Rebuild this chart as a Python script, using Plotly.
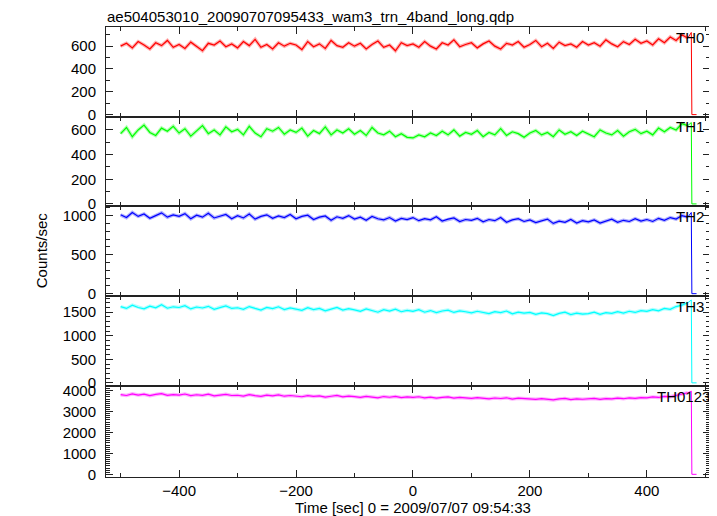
import plotly.graph_objects as go
from plotly.subplots import make_subplots

title_text = "ae504053010_20090707095433_wam3_trn_4band_long.qdp"
x_title = "Time [sec] 0 = 2009/07/07 09:54:33"
y_title = "Counts/sec"
band_names = ["TH0", "TH1", "TH2", "TH3", "TH0123"]
band_colors = ["#ff0000", "#00ff00", "#0000ff", "#00ffff", "#ff00ff"]

# sample times (10 s spacing) plus the final drop of the last partial bin
time_main = list(range(-500, 480, 10))
time_tail = [476, 477, 485]

th0 = [600, 625, 585, 640, 610, 575, 630, 605, 650, 590,
       615, 580, 635, 600, 560, 625, 610, 645, 595, 620,
       585, 640, 605, 660, 590, 615, 575, 630, 600, 625,
       610, 570, 640, 595, 620, 580, 650, 605, 590, 630,
       600, 625, 575, 615, 645, 590, 610, 560, 630, 605,
       620, 590, 640, 600, 575, 630, 610, 655, 595, 615,
       630, 585, 620, 645, 600, 575, 625, 610, 640, 590,
       615, 650, 595, 625, 580, 635, 605, 620, 590, 640,
       610, 630, 600, 655, 620, 595, 640, 615, 660, 625,
       645, 610, 665, 630, 680, 650, 700, 670]
th1 = [570, 620, 545, 600, 640, 580, 555, 615, 590, 630,
       575, 610, 550, 595, 635, 570, 600, 560, 625, 585,
       605, 560, 630, 575, 545, 610, 590, 620, 565, 600,
       580, 615, 550, 595, 570, 625, 560, 600, 575, 610,
       565, 595, 555, 620, 575, 560, 590, 545, 570, 540,
       535, 560, 545, 575, 555, 590, 560, 600, 550, 580,
       565, 595, 545, 580, 560, 610, 555, 585, 570, 540,
       575, 595, 560, 580, 545, 600, 565, 585, 555, 590,
       570, 545, 600, 575, 560, 595, 550, 585, 605, 570,
       590, 560, 615, 585, 620, 600, 650, 635]
th2 = [1010, 975, 1040, 990, 1020, 965, 1000, 1035, 980, 1010,
       990, 1025, 960, 1005, 980, 1030, 970, 995, 1015, 960,
       1000, 970, 1020, 955, 990, 1010, 965, 995, 975, 1015,
       960, 990, 1005, 950, 980, 995, 940, 985, 965, 1000,
       955, 980, 940, 990, 960, 945, 975, 930, 965, 950,
       975, 935, 960, 945, 985, 930, 955, 970, 925, 950,
       940, 965, 920, 950, 935, 975, 915, 945, 960, 925,
       945, 910, 935, 955, 900, 930, 915, 950, 905, 935,
       920, 945, 905, 930, 955, 915, 940, 925, 960, 930,
       950, 925, 965, 940, 975, 955, 1000, 980]
th3 = [1620, 1580, 1650, 1600, 1570, 1630, 1595, 1660, 1585, 1615,
       1600, 1640, 1570, 1610, 1590, 1625, 1560, 1605, 1635, 1580,
       1595, 1560, 1620, 1580, 1545, 1600, 1575, 1615, 1555, 1590,
       1570, 1540, 1595, 1555, 1580, 1530, 1565, 1600, 1545, 1575,
       1550, 1520, 1570, 1535, 1500, 1555, 1525, 1565, 1510, 1540,
       1520, 1555, 1500, 1535, 1490, 1525, 1545, 1495, 1530, 1510,
       1485, 1520, 1500, 1470, 1510, 1490, 1525, 1465, 1500, 1480,
       1495, 1455, 1485, 1470, 1430, 1475, 1500, 1450, 1480, 1460,
       1470, 1500, 1455, 1490, 1475, 1510, 1480, 1520, 1495, 1535,
       1520, 1555, 1530, 1580, 1560, 1620, 1650, 1700]
th0123 = [3810, 3770, 3850, 3790, 3830, 3760, 3820, 3860, 3780, 3815,
          3790, 3840, 3760, 3805, 3775, 3830, 3750, 3800, 3825, 3770,
          3780, 3740, 3810, 3760, 3725, 3790, 3755, 3800, 3735, 3770,
          3740, 3710, 3765, 3725, 3750, 3690, 3735, 3770, 3705, 3740,
          3715, 3680, 3730, 3695, 3660, 3720, 3685, 3725, 3670, 3700,
          3680, 3710, 3655, 3690, 3640, 3680, 3700, 3645, 3675, 3655,
          3630, 3665, 3640, 3610, 3650, 3625, 3660, 3600, 3640, 3615,
          3625, 3585, 3615, 3600, 3560, 3605, 3630, 3575, 3610, 3590,
          3600, 3630, 3585, 3620, 3605, 3645, 3615, 3655, 3630, 3670,
          3660, 3700, 3675, 3730, 3710, 3780, 3820, 3900]
tail_th0 = [720, 0, 0]
tail_th1 = [660, 0, 0]
tail_th2 = [1040, 0, 0]
tail_th3 = [1760, 0, 0]
tail_th0123 = [3980, 0, 0]

series = [th0, th1, th2, th3, th0123]
tails = [tail_th0, tail_th1, tail_th2, tail_th3, tail_th0123]
y_ranges = [[-21, 768], [-17, 705], [-30, 1123], [-67, 1844], [-128, 4223]]
y_dticks = [200, 200, 500, 500, 1000]
domains = [[0.8, 1.0], [0.6022, 0.8], [0.4022, 0.6022], [0.2022, 0.4022], [0.0, 0.2022]]
label_pos = [(0.9404, 0.9756), (0.9404, 0.7778), (0.9404, 0.5778), (0.9404, 0.3778), (0.909, 0.18)]

FONT = "Liberation Sans, Arial, Helvetica, sans-serif"
W, H = 709, 508  # page body keeps an 8 px margin inside the 717x516 window

fig = make_subplots(rows=5, cols=1, shared_xaxes=True, vertical_spacing=0)

for i, (vals, tail, col) in enumerate(zip(series, tails, band_colors)):
    # light halo (like the error bars of the original) under the main line
    fig.add_trace(go.Scatter(x=time_main, y=vals, mode="lines", opacity=0.3,
                             line=dict(color=col, width=3.5),
                             showlegend=False, hoverinfo="skip"), row=i + 1, col=1)
    fig.add_trace(go.Scatter(x=time_main, y=vals, mode="lines",
                             line=dict(color=col, width=1.2),
                             showlegend=False, hoverinfo="skip"), row=i + 1, col=1)
    # final partial bin: thin drop to zero
    fig.add_trace(go.Scatter(x=[time_main[-1]] + time_tail, y=[vals[-1]] + tail, mode="lines",
                             line=dict(color=col, width=1),
                             showlegend=False, hoverinfo="skip"), row=i + 1, col=1)

axis_common = dict(showline=True, linecolor="#222", linewidth=1, mirror="allticks",
                   ticks="inside", ticklen=7, tickwidth=1, tickcolor="#222",
                   showgrid=False, zeroline=False,
                   tickfont=dict(family=FONT, size=15, color="black"))

for i in range(5):
    fig.update_xaxes(range=[-525, 508], dtick=200, tick0=0,
                     minor=dict(dtick=100, ticks="inside", ticklen=4, tickcolor="#222", showgrid=False),
                     showticklabels=(i == 4), **axis_common, row=i + 1, col=1)
    fig.update_yaxes(range=y_ranges[i], dtick=y_dticks[i], tick0=0, domain=domains[i],
                     ticklabelstandoff=6,
                     minor=dict(dtick=100, ticks="inside", ticklen=4, tickcolor="#222", showgrid=False),
                     **axis_common, row=i + 1, col=1)

annotations = []
for name, (px, py) in zip(band_names, label_pos):
    annotations.append(dict(text=name, x=px, y=py, xref="paper", yref="paper",
                            xanchor="left", yanchor="middle", showarrow=False,
                            font=dict(family=FONT, size=15, color="black")))
annotations.append(dict(text=y_title, x=-0.1076, y=0.504, xref="paper", yref="paper",
                        textangle=-90, xanchor="center", yanchor="middle", showarrow=False,
                        font=dict(family=FONT, size=15, color="black")))
annotations.append(dict(text=x_title, x=0.508, y=-0.0667, xref="paper", yref="paper",
                        xanchor="center", yanchor="middle", showarrow=False,
                        font=dict(family=FONT, size=15, color="black")))

fig.update_layout(
    width=W, height=H,
    margin=dict(l=98, r=7, t=19, b=39),
    paper_bgcolor="white", plot_bgcolor="white",
    title=dict(text=title_text, x=99 / W, xanchor="left", y=1 - 9 / H, yanchor="middle",
               font=dict(family=FONT, size=15, color="black")),
    annotations=annotations,
)

fig.write_html("out.html")
